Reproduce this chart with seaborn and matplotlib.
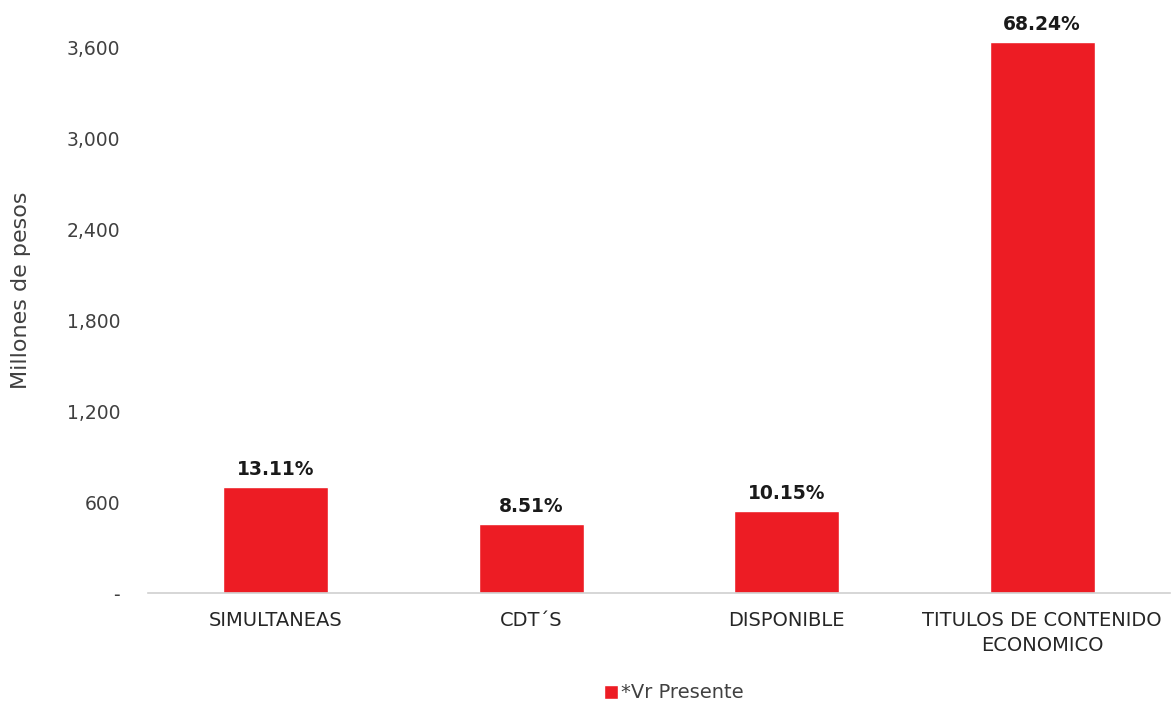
import matplotlib
matplotlib.use("Agg")
import matplotlib.pyplot as plt
import seaborn as sns
import pandas as pd
from matplotlib.ticker import FuncFormatter

categories = ["SIMULTANEAS", "CDT´S", "DISPONIBLE", "TITULOS DE CONTENIDO\nECONOMICO"]
values = [699, 454, 541, 3640]
pct_labels = ["13.11%", "8.51%", "10.15%", "68.24%"]
series_name = "*Vr Presente"
yticks = [0, 600, 1200, 1800, 2400, 3000, 3600]

sns.set_theme(style="white")
plt.rcParams["font.family"] = ["DejaVu Sans"]

df = pd.DataFrame({"cat": categories, "val": values, "series": [series_name] * len(values)})

fig = plt.figure(figsize=(11.73, 7.07), dpi=100)
ax = fig.add_axes([148 / 1173, 1 - 593 / 707, (1170 - 148) / 1173, (593 - 17.7) / 707])
sns.barplot(data=df, x="cat", y="val", hue="series", palette=["#ED1C24"], width=0.41,
            ax=ax, saturation=1, legend=True)

ax.set_ylim(0, 3800)
ax.set_xlim(-0.5, 3.5)
ax.set_yticks(yticks)
ax.yaxis.set_major_formatter(FuncFormatter(lambda v, p: "-" if v == 0 else f"{int(v):,}"))
ax.tick_params(axis="y", length=0, pad=20, labelsize=13.5, labelcolor="#404040")
ax.tick_params(axis="x", length=0, pad=13, labelsize=14, labelcolor="#262626")
for lab in ax.get_xticklabels():
    lab.set_linespacing(1.4)
for s in ["top", "right", "left"]:
    ax.spines[s].set_visible(False)
ax.spines["bottom"].set_color("#d0d0d0")
ax.spines["bottom"].set_linewidth(1.2)
ax.set_xlabel("")
ax.set_ylabel("Millones de pesos", fontsize=16, color="#404040")
ax.yaxis.set_label_coords(-0.114, 0.527)

for container in ax.containers:
    ax.bar_label(container, labels=pct_labels, padding=6, fontsize=13.5, fontweight="bold", color="#1a1a1a")

sns.move_legend(ax, "center", bbox_to_anchor=(674 / 1173, 1 - 693 / 707),
                bbox_transform=fig.transFigure, frameon=False, title=None,
                fontsize=14, handlelength=0.7, handleheight=0.7, handletextpad=0.2,
                borderaxespad=0, borderpad=0)
for t in ax.get_legend().get_texts():
    t.set_color("#404040")

fig.savefig("out.png", dpi=100)
